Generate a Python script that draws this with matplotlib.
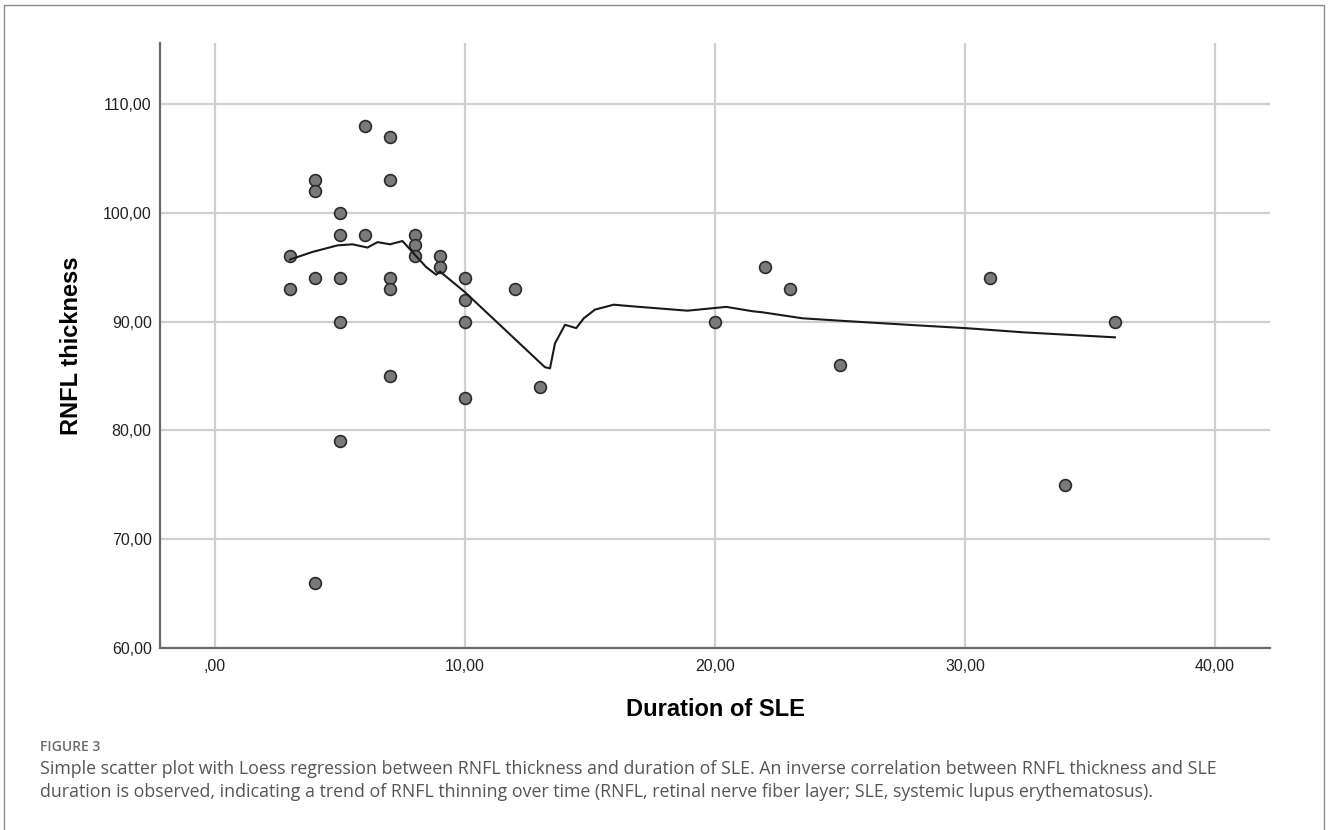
import numpy as np
import matplotlib
matplotlib.use("Agg")
import matplotlib.pyplot as plt
from matplotlib.lines import Line2D

# scatter data: duration of SLE (years) vs RNFL thickness
duration = [3, 3,
            4, 4, 4, 4,
            5, 5, 5, 5, 5,
            6, 6,
            7, 7, 7, 7, 7,
            8, 8, 8,
            9, 9,
            10, 10, 10, 10,
            12, 13, 20, 22, 23, 25, 31, 34, 36]
rnfl = [96, 93,
        103, 102, 94, 66,
        100, 98, 94, 90, 79,
        108, 98,
        107, 103, 94, 93, 85,
        98, 97, 96,
        96, 95,
        94, 92, 90, 83,
        93, 84, 90, 95, 93, 86, 94, 75, 90]

# loess fit line
loess_x = [3.0, 3.9, 4.9, 5.5, 6.1, 6.5, 7.0, 7.5, 8.05, 8.45, 8.85, 9.0,
           10.0, 13.2, 13.4, 13.6, 14.0, 14.45, 14.75, 15.2, 15.95, 16.7,
           18.9, 20.45, 21.5, 21.9, 23.5, 25.2, 28.1, 30.0, 32.4, 36.0]
loess_y = [95.7, 96.4, 97.0, 97.1, 96.8, 97.3, 97.1, 97.4, 96.0, 95.0, 94.3, 94.6,
           92.7, 85.8, 85.7, 88.0, 89.7, 89.4, 90.3, 91.1, 91.55, 91.4,
           91.0, 91.35, 90.95, 90.85, 90.3, 90.05, 89.65, 89.4, 89.0, 88.55]

xticks = [0, 10, 20, 30, 40]
yticks = [60, 70, 80, 90, 100, 110]

def comma(v):
    s = "%.2f" % v
    s = s.replace(".", ",")
    if s.startswith("0"):
        s = s[1:]
    return s

fig = plt.figure(figsize=(13.28, 8.30), dpi=100)
ax = fig.add_axes([160/1328, 1 - 648/830, 1110/1328, 605/830])

ax.scatter(duration, rnfl, s=72, c="#7a7a7a", edgecolors="#2b2b2b",
           linewidths=1.2, zorder=3)
ax.plot(loess_x, loess_y, color="#1a1a1a", lw=1.5, zorder=4)

ax.set_xlim(-2.2, 42.2)
ax.set_ylim(60, 115.6)
ax.set_xticks(xticks)
ax.set_yticks(yticks)
ax.set_xticklabels([comma(v) for v in xticks], family="Liberation Sans", fontsize=11.5)
ax.set_yticklabels([comma(v) for v in yticks], family="Liberation Sans", fontsize=11.5)
ax.tick_params(axis="x", length=0, pad=8, colors="#222222")
ax.tick_params(axis="y", length=0, pad=6, colors="#222222")
ax.grid(True, color="#cfcfcf", lw=1.6, zorder=0)
ax.set_axisbelow(True)
for side in ["top", "right"]:
    ax.spines[side].set_visible(False)
for side in ["left", "bottom"]:
    ax.spines[side].set_color("#6a6a6a")
    ax.spines[side].set_linewidth(1.6)

ax.set_xlabel("Duration of SLE", family="Liberation Sans", fontsize=17,
              fontweight="bold", labelpad=17)
ax.set_ylabel("RNFL thickness", family="Liberation Sans", fontsize=17,
              fontweight="bold", labelpad=14)

# caption
fig.text(40/1328, 1 - 747/830, "FIGURE 3", family="Open Sans", fontweight="semibold",
         fontsize=10, color="#6b6b6b", va="center")
fig.text(40/1328, 1 - 769/830,
         "Simple scatter plot with Loess regression between RNFL thickness and duration of SLE. "
         "An inverse correlation between RNFL thickness and SLE",
         family="Open Sans", fontsize=12.8, color="#555555", va="center")
fig.text(40/1328, 1 - 792/830,
         "duration is observed, indicating a trend of RNFL thinning over time "
         "(RNFL, retinal nerve fiber layer; SLE, systemic lupus erythematosus).",
         family="Open Sans", fontsize=12.8, color="#555555", va="center")

# open frame around the figure
fx = [4/1328, 4/1328, 1324/1328, 1324/1328]
fy = [0, 1 - 5/830, 1 - 5/830, 0]
fig.add_artist(Line2D(fx, fy, transform=fig.transFigure, color="#8c8c8c", lw=1.0))

fig.savefig("out.png", dpi=100)
